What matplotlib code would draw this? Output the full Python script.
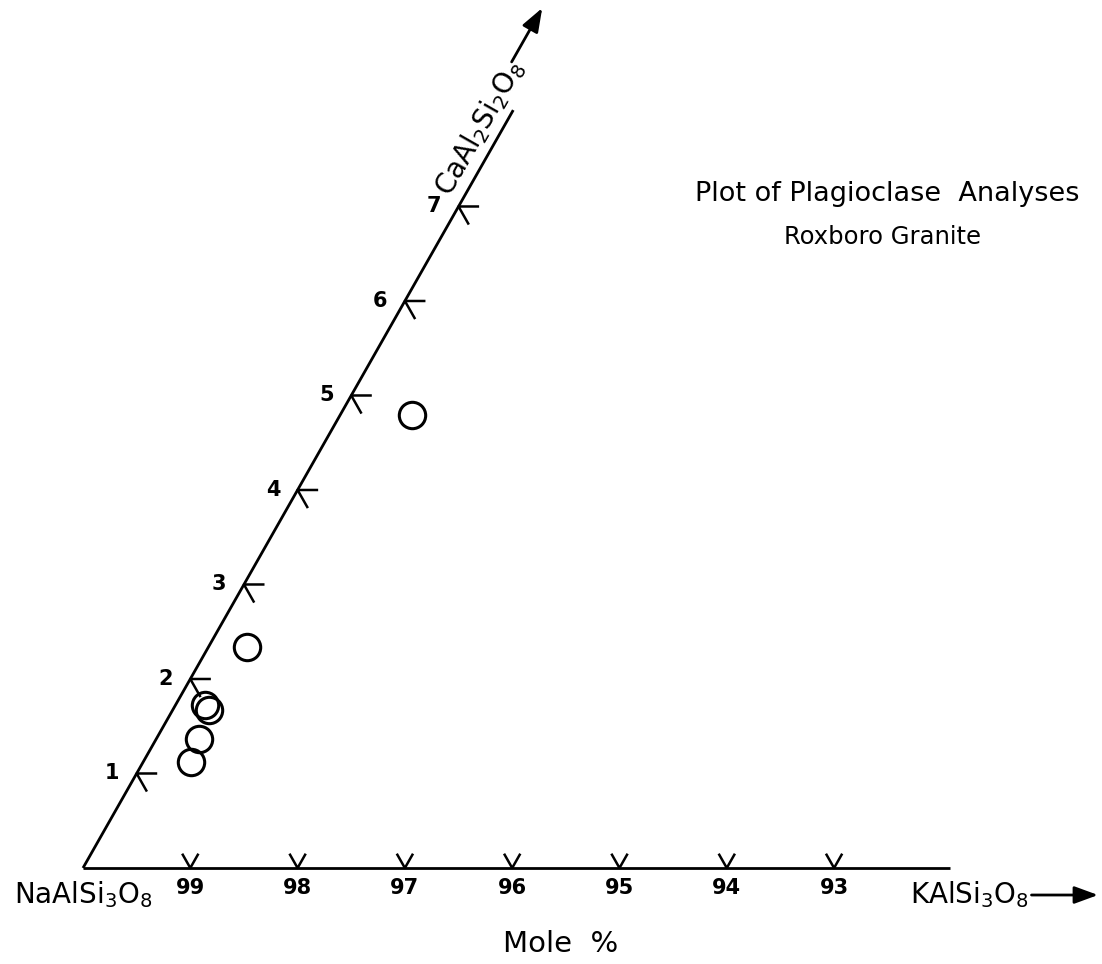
import matplotlib
matplotlib.use('Agg')
import matplotlib.pyplot as plt
import numpy as np

# ---- Data (mole %) ----
or_pct = [0.67, 0.36, 0.27, 0.34, 0.40, 0.45]   # KAlSi3O8 component
an_pct = [4.79, 2.34, 1.73, 1.67, 1.36, 1.12]   # CaAl2Si2O8 component
ab_ticks = [99, 98, 97, 96, 95, 94, 93]          # NaAlSi3O8 % along base
an_ticks = [1, 2, 3, 4, 5, 6, 7]                 # CaAl2Si2O8 % along side

plt.rcParams['font.family'] = ['DejaVu Sans']

fig = plt.figure(figsize=(11.02, 9.64), dpi=100)
ax = fig.add_axes([0, 0, 1, 1])
ax.set_xlim(-0.7735, 9.497)
ax.set_ylim(-1.016, 9.185)
ax.axis('off')


def tx(o, a):
    """ternary (Or, An) -> cartesian X; Y is An"""
    return np.asarray(o, dtype=float) + 0.5 * np.asarray(a, dtype=float)


LW = 2.0
# base line (Ab - Or join)
base_end = 8.08
ax.plot(tx([0, base_end], [0, 0]), [0, 0], color='black', lw=LW,
        solid_capstyle='butt')
# inclined side (Ab - An join)
side_end = 8.02
ax.plot(tx([0, 0], [0, side_end]), [0, side_end], color='black', lw=LW,
        solid_capstyle='butt')

# base ticks (V shapes)
t = 0.14
for ab in ab_ticks:
    o = 100 - ab
    oo = [o - t, o, o]
    aa = [t, 0, t]
    ax.plot(tx(oo, aa), aa, color='black', lw=1.8)
    ax.text(tx(o, 0), -0.217, str(ab), ha='center', va='center',
            fontsize=15, fontweight='bold')

# side ticks (< shapes)
s = 0.18
for k in an_ticks:
    oo = [s, 0, s]
    aa = [k, k, k - s]
    ax.plot(tx(oo, aa), aa, color='black', lw=1.8)
    ax.text(tx(-0.23, k), k, str(k), ha='center', va='center',
            fontsize=15, fontweight='bold')

# analyses
ax.plot(tx(or_pct, an_pct), an_pct, 'o', ms=19, mfc='none', mec='black',
        mew=2.2, ls='none')

# end-member labels
ax.text(tx(0, 0), -0.37, r'NaAlSi$_3$O$_8$', ha='center', va='baseline',
        fontsize=20)
ax.text(7.71, -0.37, r'KAlSi$_3$O$_8$', ha='left', va='baseline',
        fontsize=20)
ax.annotate('', xy=(9.46, -0.286), xytext=(8.84, -0.286),
            arrowprops=dict(arrowstyle='-|>,head_length=0.6,head_width=0.22',
                            mutation_scale=24, lw=2.0, color='black',
                            shrinkA=0, shrinkB=0))

ang = np.degrees(np.arctan2(94.5, 53.8))
ax.text(tx(-0.22, 7.83), 7.83, r'CaAl$_2$Si$_2$O$_8$', rotation=ang,
        rotation_mode='anchor', ha='center', va='center', fontsize=20)
ax.annotate('', xy=(tx(-0.27, 9.10), 9.10), xytext=(tx(-0.27, 8.53), 8.53),
            arrowprops=dict(arrowstyle='-|>,head_length=0.6,head_width=0.22',
                            mutation_scale=24, lw=2.0, color='black',
                            shrinkA=0, shrinkB=0))

# titles
fig.text(0.805, 1 - 194 / 964, 'Plot of Plagioclase  Analyses', ha='center',
         va='center', fontsize=19.5)
fig.text(0.801, 1 - 237 / 964, 'Roxboro Granite', ha='center', va='center',
         fontsize=17.5)
fig.text(0.509, 1 - 944 / 964, 'Mole  %', ha='center', va='center',
         fontsize=21)

fig.savefig('out.png', dpi=100, facecolor='white')
